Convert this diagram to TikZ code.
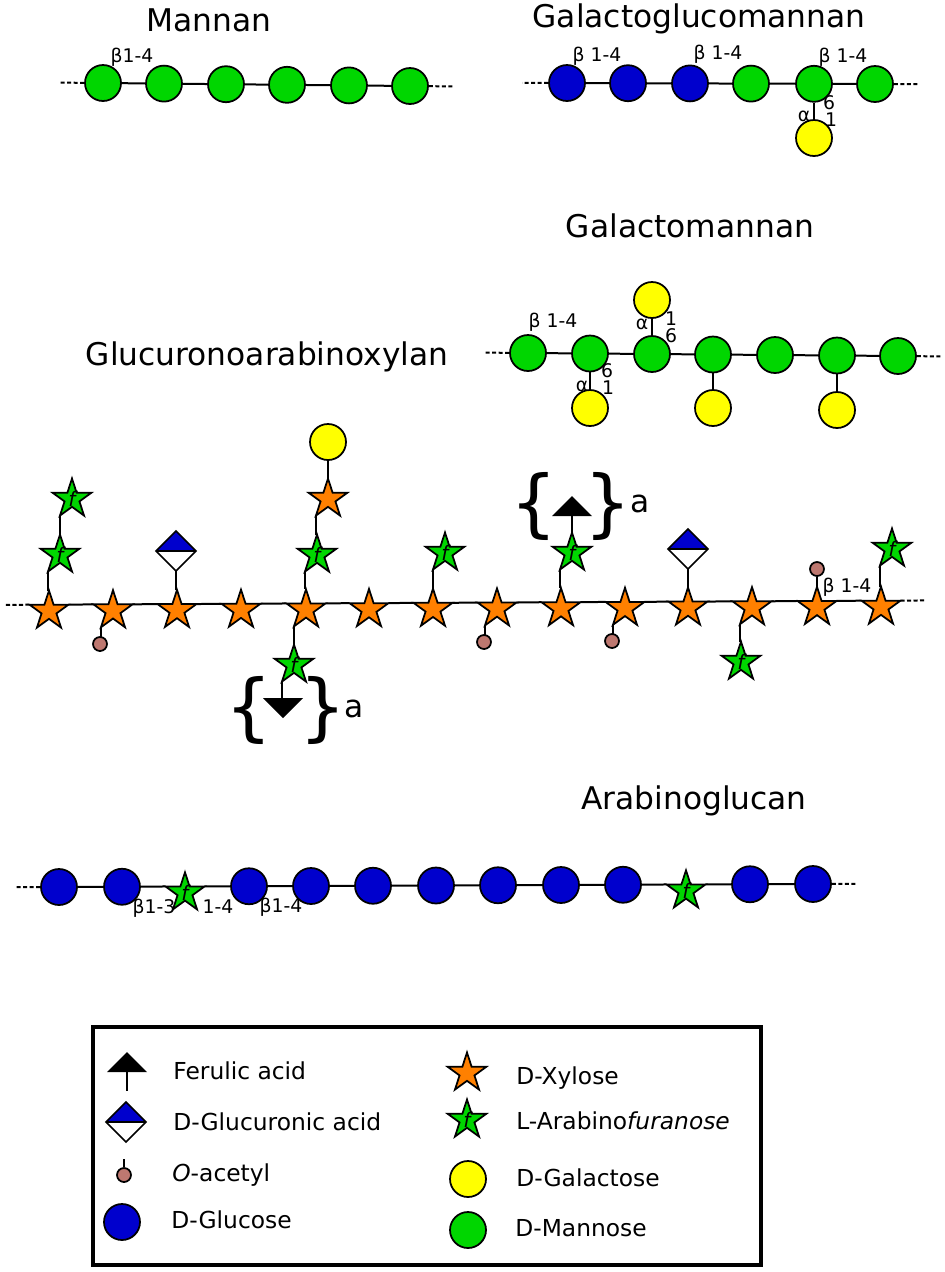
\documentclass[tikz,border=0pt]{standalone}
\usepackage{fontspec}
\setmainfont{DejaVu Sans}
\usepackage{xcolor}
\usetikzlibrary{shapes.geometric,backgrounds}
\definecolor{glcblue}{RGB}{0,0,205}
\definecolor{mangreen}{RGB}{0,214,0}
\definecolor{galyellow}{RGB}{255,255,0}
\definecolor{xylorange}{RGB}{255,128,0}
\definecolor{acrose}{RGB}{190,120,112}
\tikzset{
  sugar/.style={circle,draw,line width=0.035cm,inner sep=0pt,minimum size=0.72cm},
  glc/.style={sugar,fill=glcblue},
  man/.style={sugar,fill=mangreen},
  gal/.style={sugar,fill=galyellow},
  starbase/.style={star,star points=5,star point ratio=2.618,draw,line width=0.035cm,inner sep=0pt,outer sep=0pt,minimum size=0.82cm},
  xyl/.style={starbase,fill=xylorange},
  araf/.style={starbase,fill=mangreen,label={[font=\fontsize{11.5}{11.5}\selectfont\itshape,inner sep=0pt]center:f}},
  oac/.style={circle,draw,line width=0.035cm,inner sep=0pt,minimum size=0.28cm,fill=acrose},
  glca/.style={diamond,aspect=1,draw,line width=0.03cm,inner sep=0pt,outer sep=0pt,minimum size=0.8cm,fill=white,
    path picture={\fill[glcblue] (path picture bounding box.west) rectangle (path picture bounding box.north east);
      \draw[line width=0.03cm] (path picture bounding box.west) -- (path picture bounding box.east);}},
  bond/.style={line width=0.04cm},
  dots/.style={line width=0.04cm,dash pattern=on 2.3pt off 1.4pt},
  polytitle/.style={font=\fontsize{17.8}{20}\selectfont,inner sep=0pt,anchor=base},
  linklabel/.style={font=\fontsize{10.7}{11}\selectfont,inner sep=0pt,anchor=base},
  legendtext/.style={font=\fontsize{13.3}{15}\selectfont,anchor=base west,inner sep=0pt},
  bracetext/.style={font=\fontsize{42}{42}\selectfont,inner sep=0pt},
}
\begin{document}
\begin{tikzpicture}[x=0.02cm,y=-0.02cm]
  \useasboundingbox (0,0) rectangle (945,1272);
  % Titler
  \node[polytitle] (tman) at (209,31) {Mannan};
  \node[polytitle] (tgg) at (699,27) {Galactoglucomannan};
  \node[polytitle] (tgm) at (690,237) {Galactomannan};
  \node[polytitle] (tgax) at (267,365) {Glucuronoarabinoxylan};
  \node[polytitle] (tag) at (694,809) {Arabinoglucan};
  % Mannan
  \node[man] (m1) at (103,83) {};
  \node[man] (m2) at (164,83.6) {};
  \node[man] (m3) at (226,84.2) {};
  \node[man] (m4) at (287,84.8) {};
  \node[man] (m5) at (349,85.4) {};
  \node[man] (m6) at (410,86) {};
  \coordinate (ml) at (59,82.6);
  \coordinate (mr) at (453,86.4);
  \node[linklabel] (mlab) at (132,62) {β1-4};
  % Galactoglucomannan
  \node[glc] (g1) at (567,83) {};
  \node[glc] (g2) at (628,83.2) {};
  \node[glc] (g3) at (690,83.4) {};
  \node[man] (g4) at (751,83.6) {};
  \node[man] (g5) at (814,83.8) {};
  \node[man] (g6) at (875,84) {};
  \node[gal] (g7) at (814,138) {};
  \coordinate (gl) at (522,82.8);
  \coordinate (gr) at (919,84.2);
  \node[linklabel] (glab1) at (597,61) {β 1-4};
  \node[linklabel] (glab2) at (718,59) {β 1-4};
  \node[linklabel] (glab3) at (843,62) {β 1-4};
  \node[linklabel] (glab4) at (829,109) {6};
  \node[linklabel] (glab5) at (831,126) {1};
  \node[linklabel] (glab6) at (804,121) {α};
  % Galactomannan
  \node[man] (gm1) at (528,353) {};
  \node[man] (gm2) at (590,353.5) {};
  \node[man] (gm3) at (652,354) {};
  \node[man] (gm4) at (713,354.5) {};
  \node[man] (gm5) at (775,355) {};
  \node[man] (gm6) at (837,355.5) {};
  \node[man] (gm7) at (898,356) {};
  \node[gal] (gm8) at (652,300) {};
  \node[gal] (gm9) at (590,408) {};
  \node[gal] (gm10) at (713,408) {};
  \node[gal] (gm11) at (837,410) {};
  \coordinate (gml) at (484,352.6);
  \coordinate (gmr) at (942,356.4);
  \node[linklabel] (gmlab1) at (553,327) {β 1-4};
  \node[linklabel] (gmlab2) at (642,329) {α};
  \node[linklabel] (gmlab3) at (671,325) {1};
  \node[linklabel] (gmlab4) at (671,342) {6};
  \node[linklabel] (gmlab5) at (607,377) {6};
  \node[linklabel] (gmlab6) at (608,394) {1};
  \node[linklabel] (gmlab7) at (582,391) {α};
  % Glucuronoarabinoxylan, hovedkjede
  \node[xyl] (x1) at (49,611) {};
  \node[xyl] (x2) at (113,610.69) {};
  \node[xyl] (x3) at (177,610.38) {};
  \node[xyl] (x4) at (241,610.08) {};
  \node[xyl] (x5) at (306,609.77) {};
  \node[xyl] (x6) at (369,609.46) {};
  \node[xyl] (x7) at (433,609.15) {};
  \node[xyl] (x8) at (497,608.85) {};
  \node[xyl] (x9) at (561,608.54) {};
  \node[xyl] (x10) at (625,608.23) {};
  \node[xyl] (x11) at (688,607.92) {};
  \node[xyl] (x12) at (752,607.62) {};
  \node[xyl] (x13) at (817,607.31) {};
  \node[xyl] (x14) at (881,607) {};
  \coordinate (xl) at (4,605);
  \coordinate (xr) at (926,600.4);
  % Sidekjeder
  \node[araf] (a1) at (60,555) {};
  \node[araf] (a2) at (72,499) {};
  \node[glca] (d1) at (176,551) {};
  \node[araf] (a3) at (317,555) {};
  \node[xyl] (x15) at (328,499) {};
  \node[gal] (y1) at (328,442) {};
  \node[araf] (a4) at (445,553) {};
  \node[araf] (a5) at (294,665) {};
  \node[araf] (a6) at (572,553) {};
  \node[glca] (d2) at (688,549) {};
  \node[araf] (a7) at (741,662) {};
  \node[araf] (a8) at (892,549) {};
  \node[oac] (o1) at (100,644) {};
  \node[oac] (o2) at (484,642) {};
  \node[oac] (o3) at (612,641) {};
  \node[oac] (o4) at (817,569) {};
  \node[linklabel] (xlab) at (847,592) {β 1-4};
  % Ferulasyre med klammer
  \fill (263,698) -- (303,698) -- (283,718) -- cycle;
  \coordinate (f1) at (282,698);
  \node[bracetext] (bl1) at (249,710) {\{};
  \node[bracetext] (br1) at (323,710) {\}};
  \node[polytitle] (an1) at (354,717) {a};
  \fill (552,516) -- (592,516) -- (572,496) -- cycle;
  \coordinate (f2) at (572,516);
  \node[bracetext] (bl2) at (534,506) {\{};
  \node[bracetext] (br2) at (608,506) {\}};
  \node[polytitle] (an2) at (640,512) {a};
  % Arabinoglucan
  \node[glc] (b1) at (59,887) {};
  \node[glc] (b2) at (122,886.75) {};
  \node[araf] (b3) at (185,892.8) {};
  \node[glc] (b4) at (249,886.24) {};
  \node[glc] (b5) at (311,886) {};
  \node[glc] (b6) at (373,885.75) {};
  \node[glc] (b7) at (436,885.5) {};
  \node[glc] (b8) at (498,885.25) {};
  \node[glc] (b9) at (561,885) {};
  \node[glc] (b10) at (623,884.76) {};
  \node[araf] (b11) at (686,890.8) {};
  \node[glc] (b12) at (750,884.25) {};
  \node[glc] (b13) at (813,884) {};
  \coordinate (bl) at (16,887.2);
  \coordinate (br) at (857,883.8);
  \node[linklabel] (blab1) at (154,913) {β1-3};
  \node[linklabel] (blab2) at (218,913) {1-4};
  \node[linklabel] (blab3) at (281,912) {β1-4};
  % Tegnforklaring
  \node[draw,line width=0.08cm,minimum width=13.36cm,minimum height=4.76cm,inner sep=0pt] (box) at (427,1146) {};
  \fill (107,1072) -- (147,1072) -- (127,1052) -- cycle;
  \coordinate (lf1) at (127,1072);
  \coordinate (lf2) at (127,1091);
  \node[legendtext] (t1) at (173,1079) {Ferulic acid};
  \node[glca] (l2) at (126,1122) {};
  \node[legendtext] (t2) at (173,1130) {D-Glucuronic acid};
  \node[oac] (l3) at (124,1175) {};
  \coordinate (l3t) at (124,1159);
  \node[legendtext] (t3) at (172,1181) {\textit{O}-acetyl};
  \node[glc] (l4) at (122,1222) {};
  \node[legendtext] (t4) at (171,1228) {D-Glucose};
  \node[xyl] (l5) at (467,1073) {};
  \node[legendtext] (t5) at (516,1084) {D-Xylose};
  \node[araf] (l6) at (467,1120) {};
  \node[legendtext] (t6) at (516,1129) {L-Arabino\textit{furanose}};
  \node[gal] (l7) at (468,1179) {};
  \node[legendtext] (t7) at (516,1186) {D-Galactose};
  \node[man] (l8) at (468,1230) {};
  \node[legendtext] (t8) at (515,1236) {D-Mannose};
  % Bindinger bak symbolene
  \begin{scope}[on background layer]
    \draw[bond] (m1) -- (m2) -- (m3) -- (m4) -- (m5) -- (m6);
    \draw[dots] (m1) -- (ml);
    \draw[dots] (m6) -- (mr);
    \draw[bond] (g1) -- (g2) -- (g3) -- (g4) -- (g5) -- (g6);
    \draw[bond] (g5) -- (g7);
    \draw[dots] (g1) -- (gl);
    \draw[dots] (g6) -- (gr);
    \draw[bond] (gm1) -- (gm2) -- (gm3) -- (gm4) -- (gm5) -- (gm6) -- (gm7);
    \draw[bond] (gm3) -- (gm8);
    \draw[bond] (gm2) -- (gm9);
    \draw[bond] (gm4) -- (gm10);
    \draw[bond] (gm6) -- (gm11);
    \draw[dots] (gm1) -- (gml);
    \draw[dots] (gm7) -- (gmr);
    \draw[bond] (x1.outer point 5) -- (x2.outer point 2);
    \draw[bond] (x2.outer point 5) -- (x3.outer point 2);
    \draw[bond] (x3.outer point 5) -- (x4.outer point 2);
    \draw[bond] (x4.outer point 5) -- (x5.outer point 2);
    \draw[bond] (x5.outer point 5) -- (x6.outer point 2);
    \draw[bond] (x6.outer point 5) -- (x7.outer point 2);
    \draw[bond] (x7.outer point 5) -- (x8.outer point 2);
    \draw[bond] (x8.outer point 5) -- (x9.outer point 2);
    \draw[bond] (x9.outer point 5) -- (x10.outer point 2);
    \draw[bond] (x10.outer point 5) -- (x11.outer point 2);
    \draw[bond] (x11.outer point 5) -- (x12.outer point 2);
    \draw[bond] (x12.outer point 5) -- (x13.outer point 2);
    \draw[bond] (x13.outer point 5) -- (x14.outer point 2);
    \draw[dots] (x1.outer point 2) -- (xl);
    \draw[dots] (x14.outer point 5) -- (xr);
    % loddrette sidebindinger, fra spissen paa sidegrenen
    \draw[bond] (a1.outer point 3) -- (a1.outer point 3 |- x1.outer point 1);
    \draw[bond] (a2.outer point 3) -- (a2.outer point 3 |- a1.outer point 1);
    \draw[bond] (d1.south) -- (d1.south |- x3.outer point 1);
    \draw[bond] (a3.outer point 3) -- (a3.outer point 3 |- x5.outer point 1);
    \draw[bond] (x15.outer point 3) -- (x15.outer point 3 |- a3.outer point 1);
    \draw[bond] (x15.outer point 1) -- (x15.outer point 1 |- y1.south);
    \draw[bond] (a4.outer point 3) -- (a4.outer point 3 |- x7.outer point 1);
    \draw[bond] (x5.outer point 3) -- (x5.outer point 3 |- a5.outer point 1);
    \draw[bond] (a5.outer point 3) -- (a5.outer point 3 |- f1);
    \draw[bond] (a6.outer point 3) -- (a6.outer point 3 |- x9.outer point 1);
    \draw[bond] (a6.outer point 1) -- (a6.outer point 1 |- f2);
    \draw[bond] (d2.south) -- (d2.south |- x11.outer point 1);
    \draw[bond] (x12.outer point 3) -- (x12.outer point 3 |- a7.outer point 1);
    \draw[bond] (a8.outer point 3) -- (a8.outer point 3 |- x14.outer point 1);
    \draw[bond] (x2.outer point 3) -- (x2.outer point 3 |- o1);
    \draw[bond] (x8.outer point 3) -- (x8.outer point 3 |- o2);
    \draw[bond] (x10.outer point 3) -- (x10.outer point 3 |- o3);
    \draw[bond] (x13.outer point 1) -- (o4);
    \draw[dots] (b1) -- (bl);
    \draw[bond] (b1) -- (b2);
    \draw[bond] (b2) -- (b3.outer point 2);
    \draw[bond] (b3.outer point 5) -- (b4);
    \draw[bond] (b4) -- (b5) -- (b6) -- (b7) -- (b8) -- (b9) -- (b10);
    \draw[bond] (b10) -- (b11.outer point 2);
    \draw[bond] (b11.outer point 5) -- (b12);
    \draw[bond] (b12) -- (b13);
    \draw[dots] (b13) -- (br);
    \draw[bond] (lf1) -- (lf2);
    \draw[bond] (l3) -- (l3t);
  \end{scope}
\end{tikzpicture}
\end{document}
